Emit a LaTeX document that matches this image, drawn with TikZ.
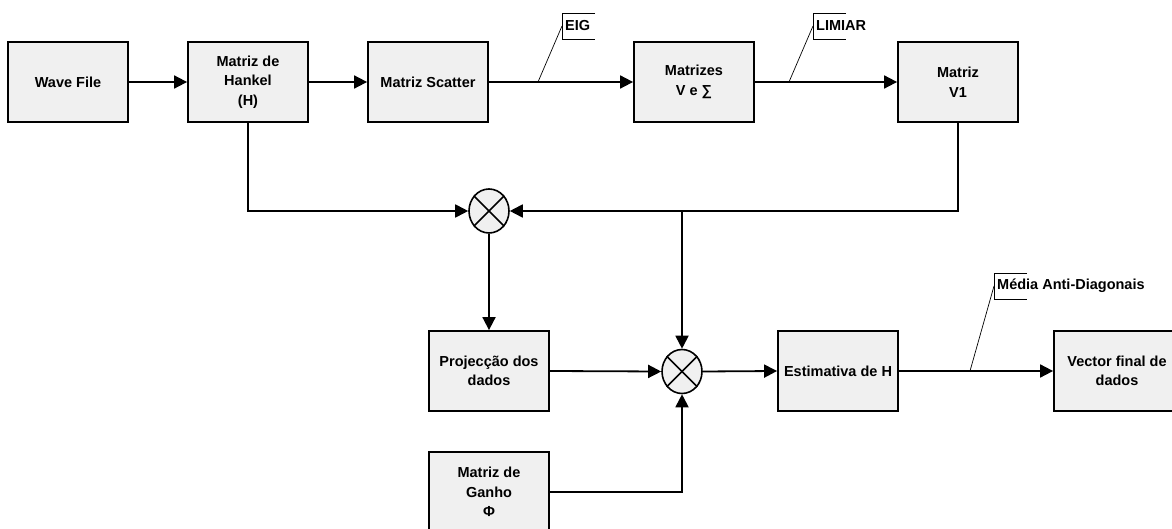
\documentclass[tikz,border=0pt]{standalone}
\usepackage{fontspec}
\setmainfont{Liberation Sans}
\usetikzlibrary{arrows.meta,shapes.geometric}
\definecolor{boxfill}{HTML}{F0F0F0}
\tikzset{
  blk/.style={draw, line width=1.8pt, fill=boxfill, minimum width=120pt, minimum height=80pt,
    inner sep=2pt, align=center, font=\fontsize{14.5}{19.5}\selectfont\bfseries},
  mult/.style={draw, line width=1.6pt, fill=boxfill, ellipse, minimum width=40pt, minimum height=44pt, inner sep=0pt},
  arr/.style={line width=1.8pt, -{Triangle[length=13pt,width=13pt]}},
  lbl/.style={inner sep=0pt, font=\fontsize{14.5}{17}\selectfont\bfseries},
  lead/.style={line width=0.7pt},
}
\begin{document}
\begin{tikzpicture}[x=1pt,y=-1pt]
\useasboundingbox (0,0) rectangle (1172,529);
% blocks
\node[blk] (wave) at (68,82) {Wave File};
\node[blk] (hankel) at (248,82) {Matriz de\\Hankel\\(H)};
\node[blk] (scatter) at (428,82) {Matriz Scatter};
\node[blk] (vs) at (694,82) {Matrizes\\V e ∑};
\node[blk] (v1) at (958,82) {Matriz\\V1};
\node[mult] (m1) at (489,211) {};
\node[blk] (proj) at (489,371) {Projecção dos\\dados};
\node[mult] (m2) at (682,371.5) {};
\node[blk] (est) at (838,371) {Estimativa de H};
\node[blk, minimum width=126pt] (vec) at (1117,371) {Vector final de\\dados};
\node[blk] (ganho) at (489,492) {Matriz de\\Ganho\\Φ};
% crosses
\foreach \m in {m1,m2}{
  \draw[line width=1.6pt] (\m.45) -- (\m.225);
  \draw[line width=1.6pt] (\m.135) -- (\m.315);
}
% connectors
\draw[arr] (wave) -- (hankel);
\draw[arr] (hankel) -- (scatter);
\draw[arr] (scatter) -- (vs);
\draw[arr] (vs) -- (v1);
\draw[arr] (hankel.south) |- (m1.west);
\draw[arr] (v1.south) |- (m1.east);
\coordinate (br) at (682,211);
\draw[arr] (br) -- (m2.north);
\draw[arr] (m1.south) -- (proj.north);
\draw[arr] (proj.east) -- (m2.west);
\draw[arr] (m2.east) -- (est.west);
\draw[arr] (est.east) -- (vec.west);
\draw[arr] (ganho.east) -| (m2.south);
% callouts
\coordinate (eigfoot) at (538,82);
\coordinate (eigc) at (562,26);
\node[lbl, anchor=west] (eig) at (565,26) {EIG};
\draw[lead] (eigfoot) -- (eigc);
\draw[lead] ([shift={(33,-13)}]eigc) -- ([shift={(0,-13)}]eigc) -- ([shift={(0,13)}]eigc) -- ([shift={(33,13)}]eigc);
\coordinate (limfoot) at (789,82);
\coordinate (limc) at (813,26);
\node[lbl, anchor=west] (lim) at (816,26) {LIMIAR};
\draw[lead] (limfoot) -- (limc);
\draw[lead] ([shift={(33,-13)}]limc) -- ([shift={(0,-13)}]limc) -- ([shift={(0,13)}]limc) -- ([shift={(33,13)}]limc);
\coordinate (medfoot) at (970,371);
\coordinate (medc) at (994,286);
\node[lbl, anchor=west] (med) at (997,286) {Média Anti-Diagonais};
\draw[lead] (medfoot) -- (medc);
\draw[lead] ([shift={(33,-13)}]medc) -- ([shift={(0,-13)}]medc) -- ([shift={(0,13)}]medc) -- ([shift={(33,13)}]medc);
\end{tikzpicture}
\end{document}
